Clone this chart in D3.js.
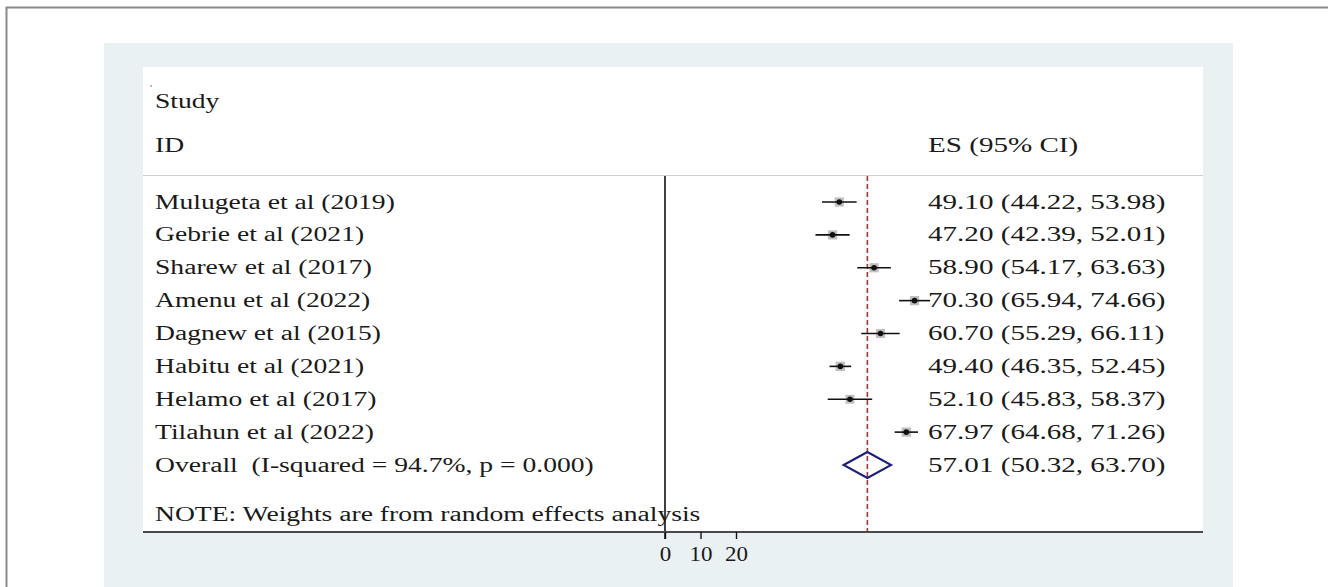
<!DOCTYPE html>
<html>
<head>
<meta charset="utf-8">
<script src="https://cdn.jsdelivr.net/npm/d3@7"></script>
<style>
  html, body { margin: 0; padding: 0; background: #fff; }
  svg { display: block; }
  text { font-family: "Liberation Serif", "Times New Roman", serif; fill: #1a1a1a; }
</style>
</head>
<body>
<svg id="chart" width="1328" height="587"></svg>
<script>
// ---- data ----
const studies = ["Mulugeta et al (2019)", "Gebrie et al (2021)", "Sharew et al (2017)", "Amenu et al (2022)",
                 "Dagnew et al (2015)", "Habitu et al (2021)", "Helamo et al (2017)", "Tilahun et al (2022)"];
const es    = [49.10, 47.20, 58.90, 70.30, 60.70, 49.40, 52.10, 67.97];
const lower = [44.22, 42.39, 54.17, 65.94, 55.29, 46.35, 45.83, 64.68];
const upper = [53.98, 52.01, 63.63, 74.66, 66.11, 52.45, 58.37, 71.26];
const weights = [12.5, 12.6, 12.5, 12.7, 12.2, 13.1, 11.6, 12.9];
const overall = { label: "Overall  (I-squared = 94.7%, p = 0.000)", es: 57.01, lower: 50.32, upper: 63.70 };
const xTicks = [0, 10, 20];
const headerLeft = ["Study", "ID"];
const headerRight = "ES (95% CI)";
const noteText = "NOTE: Weights are from random effects analysis";

const FS = 20, SX = 1.38, SX_ES = 1.455, SX_TICK = 1.15;   // font size and horizontal stretch of the original
const svg = d3.select("#chart");

function label(sel, x, y, str, sx = SX) {
  return sel.append("text")
    .attr("transform", `translate(${x},${y}) scale(${sx},1)`)
    .attr("font-size", FS)
    .attr("xml:space", "preserve")
    .text(str);
}

// outer frame
svg.append("rect").attr("x", 6.5).attr("y", 7.5).attr("width", 1340).attr("height", 600)
  .attr("fill", "#fff").attr("stroke", "#8a8a8a").attr("stroke-width", 2);
// graph region (light background)
svg.append("rect").attr("x", 104).attr("y", 43).attr("width", 1129).attr("height", 560).attr("fill", "#eaf1f3");
// plot region (white)
const plotL = 143, plotR = 1203, plotT = 67, plotB = 532;
svg.append("rect").attr("x", plotL).attr("y", plotT).attr("width", plotR - plotL).attr("height", plotB - plotT).attr("fill", "#fff");

// scales
const x = d3.scaleLinear().domain([0, 100]).range([665, 1020]);
const rowLabels = studies.concat([overall.label]);
const y = d3.scalePoint().domain(d3.range(rowLabels.length)).range([202, 465]);

// tiny dot top-left
svg.append("circle").attr("cx", 151).attr("cy", 86).attr("r", 0.7).attr("fill", "#444");

// headers
label(svg, 155, 108, headerLeft[0]);
label(svg, 155, 152, headerLeft[1]);
label(svg, 928, 152, headerRight, SX_ES);

// separator
svg.append("line").attr("x1", plotL).attr("x2", plotR).attr("y1", 175.5).attr("y2", 175.5)
  .attr("stroke", "#cfcfcf").attr("stroke-width", 1.2);

// null line at 0
svg.append("line").attr("x1", x(0)).attr("x2", x(0)).attr("y1", 176).attr("y2", 539)
  .attr("stroke", "#111").attr("stroke-width", 1.6);

// overall dashed line
svg.append("line").attr("x1", x(overall.es)).attr("x2", x(overall.es)).attr("y1", 176).attr("y2", plotB)
  .attr("stroke", "#a8323a").attr("stroke-width", 1.6).attr("stroke-dasharray", "5,3");

// rows
const g = svg.append("g");
studies.forEach((s, i) => {
  const yy = y(i);
  label(g, 155, yy + 6.5, s);
  label(g, 928, yy + 6.5, `${es[i].toFixed(2)} (${lower[i].toFixed(2)}, ${upper[i].toFixed(2)})`, SX_ES);
  const side = Math.sqrt(weights[i]) * 2.6;
  g.append("rect").attr("x", x(es[i]) - side / 2).attr("y", yy - side / 2).attr("width", side).attr("height", side)
    .attr("fill", "#b5b5b5").attr("opacity", 0.85);
  g.append("line").attr("x1", x(lower[i])).attr("x2", x(upper[i])).attr("y1", yy).attr("y2", yy)
    .attr("stroke", "#111").attr("stroke-width", 1.6);
  g.append("circle").attr("cx", x(es[i])).attr("cy", yy).attr("r", 2.8).attr("fill", "#111");
});

// overall row
const yo = y(studies.length);
label(g, 155, yo + 6.5, overall.label);
label(g, 928, yo + 6.5, `${overall.es.toFixed(2)} (${overall.lower.toFixed(2)}, ${overall.upper.toFixed(2)})`, SX_ES);
g.append("path")
  .attr("d", `M${x(overall.lower)},${yo} L${x(overall.es)},${yo - 13} L${x(overall.upper)},${yo} L${x(overall.es)},${yo + 13} Z`)
  .attr("fill", "none").attr("stroke", "#1b1f7a").attr("stroke-width", 2);

// note
label(svg, 155, 521, noteText);

// axis line
svg.append("line").attr("x1", plotL).attr("x2", plotR).attr("y1", plotB).attr("y2", plotB)
  .attr("stroke", "#4a4a4a").attr("stroke-width", 2);

// axis ticks
const axis = d3.axisBottom(x).tickValues(xTicks).tickSize(7).tickSizeOuter(0).tickPadding(8);
const ag = svg.append("g").attr("transform", `translate(0,${plotB})`).call(axis);
ag.select(".domain").remove();
ag.selectAll(".tick line").attr("stroke", "#111").attr("stroke-width", 1.4);
ag.selectAll(".tick text")
  .attr("font-size", FS).attr("font-family", "Liberation Serif, serif").attr("fill", "#1a1a1a")
  .attr("transform", `scale(${SX_TICK},1)`);
</script>
</body>
</html>
